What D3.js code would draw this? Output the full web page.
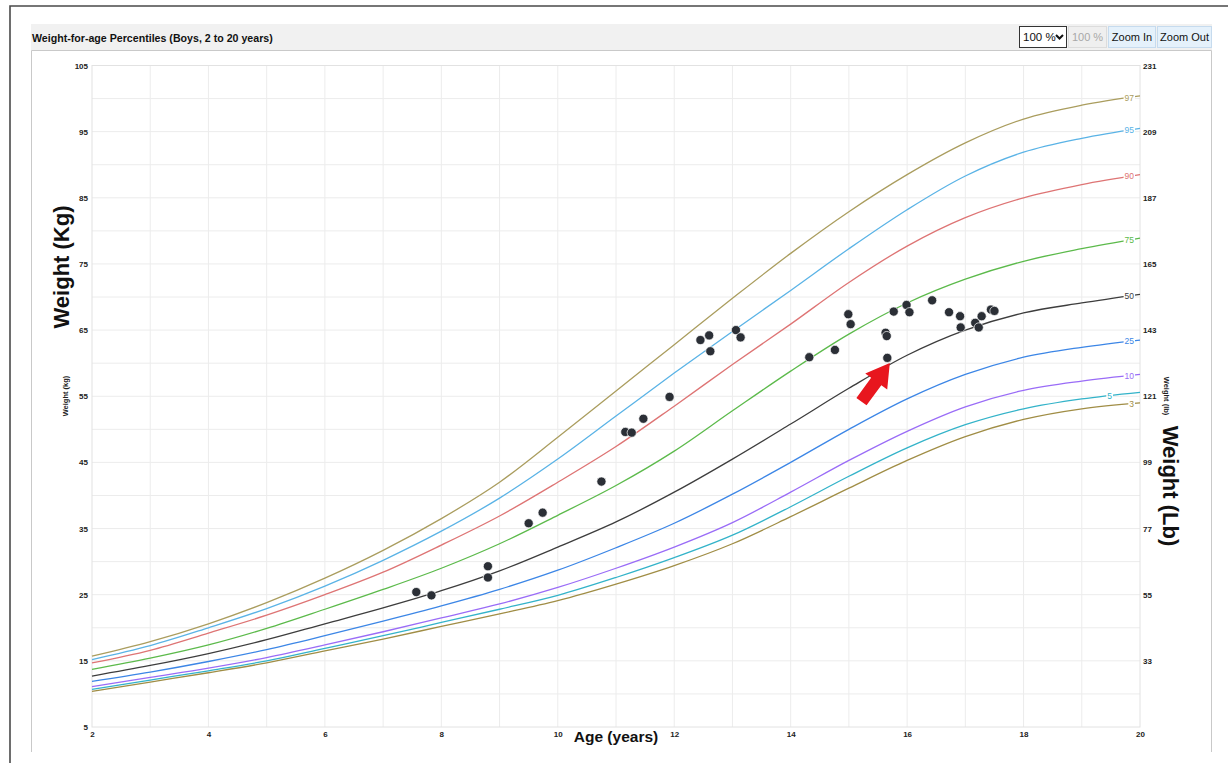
<!DOCTYPE html>
<html>
<head>
<meta charset="utf-8">
<script src="https://cdn.jsdelivr.net/npm/d3@7"></script>
<style>
body { margin: 0; background: #fff; }
svg { display: block; font-family: "Liberation Sans", Arial, sans-serif; }
</style>
</head>
<body>
<svg id="chart" width="1228" height="763"></svg>
<script>
// percentile curves, one value per year of age
const ages = [2, 3, 4, 5, 6, 7, 8, 9, 10, 11, 12, 13, 14, 15, 16, 17, 18, 19, 20]
const p3  = [10.4, 11.8, 13.2, 14.7, 16.5, 18.3, 20.2, 22.1, 24.1, 26.6, 29.4, 32.7, 36.8, 41.1, 45.3, 48.9, 51.5, 53.1, 54.0]
const p5  = [10.7, 12.1, 13.5, 15.0, 16.9, 18.8, 20.8, 22.8, 24.9, 27.6, 30.6, 34.0, 38.3, 42.9, 47.2, 50.7, 53.1, 54.6, 55.6]
const p10 = [11.1, 12.5, 13.9, 15.5, 17.4, 19.4, 21.5, 23.6, 26.1, 29.0, 32.2, 35.9, 40.5, 45.3, 49.7, 53.4, 55.9, 57.3, 58.3]
const p25 = [11.9, 13.3, 14.9, 16.7, 18.8, 21.0, 23.3, 25.8, 28.7, 32.1, 35.8, 40.2, 45.0, 50.0, 54.6, 58.3, 60.9, 62.4, 63.5]
const p50 = [12.7, 14.3, 16.1, 18.2, 20.6, 23.0, 25.6, 28.6, 32.2, 36.0, 40.5, 45.5, 50.8, 56.2, 61.2, 65.0, 67.6, 69.1, 70.4]
const p75 = [13.7, 15.4, 17.4, 19.9, 22.8, 25.8, 29.0, 32.7, 37.0, 41.5, 46.7, 52.8, 58.8, 64.4, 69.1, 72.7, 75.4, 77.3, 78.9]
const p90 = [14.7, 16.6, 19.2, 21.9, 25.0, 28.4, 32.5, 36.9, 42.0, 47.4, 53.5, 59.8, 65.9, 72.2, 77.7, 82.0, 85.0, 87.0, 88.5]
const p95 = [15.2, 17.3, 20.0, 22.9, 26.3, 30.2, 34.6, 39.6, 45.5, 52.0, 58.5, 64.8, 71.0, 77.3, 83.2, 88.3, 91.9, 94.0, 95.5]
const p97 = [15.7, 17.9, 20.6, 23.8, 27.5, 31.7, 36.5, 42.0, 48.8, 55.8, 62.8, 69.8, 76.6, 82.9, 88.5, 93.3, 96.9, 99.0, 100.4]

const pctNames  = ["3", "5", "10", "25", "50", "75", "90", "95", "97"]
const pctValues = [p3, p5, p10, p25, p50, p75, p90, p95, p97]
const pctColors = ["#a08d45", "#33b3c9", "#9a6cf7", "#3c86e6", "#3d3d3d", "#5cba4b", "#de7474", "#5ab3e6", "#aa9d5e"]

// measured visits
const visitAges    = [7.57, 7.83, 8.80, 8.80, 9.50, 9.74, 10.75, 11.16, 11.27, 11.47, 11.92, 12.45, 12.60, 12.62, 13.06, 13.14, 14.32, 14.76, 14.99, 15.03, 15.63, 15.65, 15.66, 15.77, 15.99, 16.04, 16.43, 16.72, 16.91, 16.92, 17.17, 17.23, 17.28, 17.44, 17.50]
const visitWeights = [25.4, 24.9, 29.3, 27.6, 35.8, 37.4, 42.1, 49.6, 49.5, 51.6, 54.9, 63.5, 64.2, 61.8, 65.0, 63.9, 60.9, 62.0, 67.4, 65.9, 64.6, 64.1, 60.8, 67.8, 68.8, 67.7, 69.5, 67.7, 67.1, 65.4, 66.1, 65.4, 67.1, 68.1, 67.9]
const flagged = 22 // visit the red arrow points at

// axis ticks
const ageTicks = [2, 4, 6, 8, 10, 12, 14, 16, 18, 20]
const kgTicks  = [5, 15, 25, 35, 45, 55, 65, 75, 85, 95, 105]
const lbTicks  = [33, 55, 77, 99, 121, 143, 165, 187, 209, 231]

const svg = d3.select("#chart")

const x = d3.scaleLinear().domain([2, 20]).range([92, 1140])
const y = d3.scaleLinear().domain([5, 105]).range([727, 65.5])
const yLb = d3.scaleLinear().domain([5 * 2.2, 105 * 2.2]).range([727, 65.5])

function fitText(sel, width) {
  const len = sel.node().getComputedTextLength()
  const fs = parseFloat(sel.style("font-size"))
  sel.style("font-size", (fs * width / len) + "px")
}

// outer frame
svg.append("path").attr("d", "M10,763 V6 H1228")
  .attr("fill", "none").attr("stroke", "#4a4a4a").attr("stroke-width", 1.6)

// header bar + panel
svg.append("rect").attr("x", 31).attr("y", 24).attr("width", 1181).attr("height", 26).attr("fill", "#f1f1f1")
svg.append("path").attr("d", "M31.5,752 V50.5 H1211.5 V752")
  .attr("fill", "#fff").attr("stroke", "#c9c9c9")

const title = svg.append("text").text("Weight-for-age Percentiles (Boys, 2 to 20 years)")
  .attr("x", 32).attr("y", 42).style("font-size", "11px").style("font-weight", "bold").attr("fill", "#111")
fitText(title, 241)

// zoom controls
const ctrl = svg.append("g")
ctrl.append("rect").attr("x", 1019.5).attr("y", 26.5).attr("width", 47).attr("height", 21)
  .attr("fill", "#fff").attr("stroke", "#333")
ctrl.append("text").text("100 %").attr("x", 1023).attr("y", 41).style("font-size", "11.5px").attr("fill", "#111")
ctrl.append("path").attr("d", "M1056,35 l3.5,3.5 l3.5,-3.5").attr("fill", "none").attr("stroke", "#111").attr("stroke-width", 2)
const buttons = [
  {label: "100 %", x0: 1068, x1: 1107, fill: "#efefef", stroke: "#dcdcdc", color: "#a8a8a8"},
  {label: "Zoom In", x0: 1108, x1: 1156, fill: "#e5f1fb", stroke: "#c6dbee", color: "#111"},
  {label: "Zoom Out", x0: 1157, x1: 1212, fill: "#e5f1fb", stroke: "#c6dbee", color: "#111"}
]
buttons.forEach(b => {
  ctrl.append("rect").attr("x", b.x0 + 0.5).attr("y", 26.5).attr("width", b.x1 - b.x0 - 1).attr("height", 21)
    .attr("fill", b.fill).attr("stroke", b.stroke)
  ctrl.append("text").text(b.label).attr("x", (b.x0 + b.x1) / 2).attr("y", 41)
    .attr("text-anchor", "middle").style("font-size", "11px").attr("fill", b.color)
})

// grid
const grid = svg.append("g").attr("stroke", "#ececec").attr("stroke-width", 1)
grid.selectAll(".gx").data(d3.range(3, 20)).enter().append("line")
  .attr("x1", d => x(d)).attr("x2", d => x(d)).attr("y1", y(105)).attr("y2", y(5))
grid.selectAll(".gy").data(d3.range(10, 105, 5)).enter().append("line")
  .attr("x1", x(2)).attr("x2", x(20)).attr("y1", d => y(d)).attr("y2", d => y(d))
svg.append("rect").attr("x", x(2)).attr("y", y(105)).attr("width", x(20) - x(2)).attr("height", y(5) - y(105))
  .attr("fill", "none").attr("stroke", "#e2e2e2")

// axes
function styleAxis(g) {
  g.select(".domain").remove()
  g.selectAll("text").style("font-size", "8px").style("font-weight", "bold").attr("fill", "#222")
  g.style("font-family", null)
}
svg.append("g").attr("transform", "translate(92,0)")
  .call(d3.axisLeft(y).tickValues(kgTicks).tickSize(0).tickPadding(4)).call(styleAxis)
svg.append("g").attr("transform", "translate(1140,0)")
  .call(d3.axisRight(yLb).tickValues(lbTicks).tickSize(0).tickPadding(3)).call(styleAxis)
svg.append("g").attr("transform", "translate(0,727)")
  .call(d3.axisBottom(x).tickValues(ageTicks).tickSize(0).tickPadding(4)).call(styleAxis)

// axis titles
svg.append("text").text("Weight (Kg)").attr("transform", "translate(69,267) rotate(-90)")
  .attr("text-anchor", "middle").style("font-size", "22px").style("font-weight", "bold").attr("fill", "#111")
svg.append("text").text("Weight (kg)").attr("transform", "translate(68,396) rotate(-90)")
  .attr("text-anchor", "middle").style("font-size", "7.5px").style("font-weight", "bold").attr("fill", "#222")
svg.append("text").text("Weight (Lb)").attr("transform", "translate(1163,486) rotate(90)")
  .attr("text-anchor", "middle").style("font-size", "22px").style("font-weight", "bold").attr("fill", "#111")
svg.append("text").text("Weight (lb)").attr("transform", "translate(1164,396) rotate(90)")
  .attr("text-anchor", "middle").style("font-size", "7.5px").style("font-weight", "bold").attr("fill", "#222")
svg.append("text").text("Age (years)").attr("x", 616).attr("y", 757)
  .attr("text-anchor", "middle").style("font-size", "8px").style("font-weight", "bold").attr("fill", "#222")
svg.append("rect").attr("x", 573).attr("y", 752).attr("width", 130).attr("height", 11).attr("fill", "#fff")
svg.append("text").text("Age (years)").attr("x", 616).attr("y", 742)
  .attr("text-anchor", "middle").style("font-size", "15.5px").style("font-weight", "bold").attr("fill", "#111")

// percentile curves
const line = d3.line().x((d, i) => x(ages[i])).y(d => y(d)).curve(d3.curveCatmullRom.alpha(0.5))
svg.append("g").selectAll("path").data(pctValues).enter().append("path")
  .attr("d", d => line(d))
  .attr("fill", "none")
  .attr("stroke", (d, i) => pctColors[i])
  .attr("stroke-width", 1.3)

// end labels
const labG = svg.append("g")
pctValues.forEach((vals, i) => {
  const endX = pctNames[i] === "5" ? 1112 : 1134
  const a = x.invert(endX - 4)
  const v = vals[17] + (vals[18] - vals[17]) * (a - 19)
  const ly = y(v)
  labG.append("rect").attr("x", endX - (pctNames[i].length * 4.7) - 1).attr("y", ly - 4)
    .attr("width", pctNames[i].length * 4.7 + 2).attr("height", 8).attr("fill", "#fff")
  labG.append("text").text(pctNames[i]).attr("x", endX).attr("y", ly + 3)
    .attr("text-anchor", "end").style("font-size", "8.5px").attr("fill", pctColors[i])
})

// visits
svg.append("g").selectAll("circle").data(visitAges).enter().append("circle")
  .attr("cx", d => x(d))
  .attr("cy", (d, i) => y(visitWeights[i]))
  .attr("r", 4.6)
  .attr("fill", "#2b2f36")
  .attr("stroke", "#fff").attr("stroke-width", 0.7)

// red arrow towards the flagged visit
const tipX = x(visitAges[flagged]) + 2.5
const tipY = y(visitWeights[flagged]) + 5
svg.append("path")
  .attr("d", "M0,0 L-23,-13.6 L-23,-6.3 L-48,-6.3 L-48,6.3 L-23,6.3 L-23,13.6 Z")
  .attr("transform", `translate(${tipX},${tipY}) rotate(-53.8)`)
  .attr("fill", "#e8161e")
</script>
</body>
</html>
